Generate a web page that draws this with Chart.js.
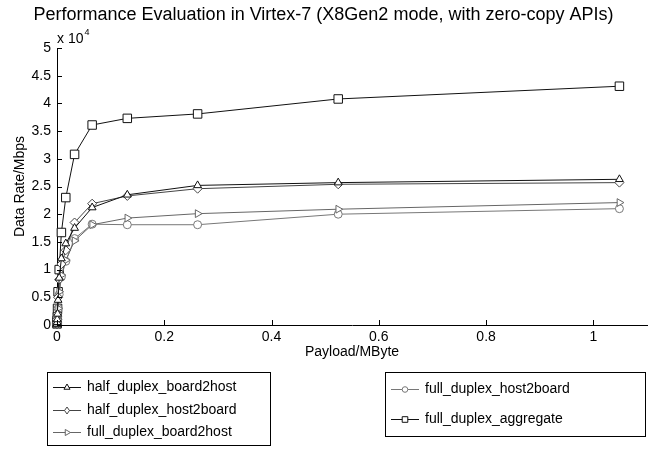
<!DOCTYPE html>
<html>
<head>
<meta charset="utf-8">
<script src="https://cdn.jsdelivr.net/npm/chart.js@4"></script>
<style>
  html, body { margin: 0; padding: 0; background: #fff; }
  canvas { display: block; }
</style>
</head>
<body>
<canvas id="perf-chart" width="663" height="450"></canvas>
<script>
// Payload sizes (MByte) and measured data rates (Mbps)
const payloadMB = [0.000064, 0.000128, 0.000256, 0.000512, 0.001024, 0.002048, 0.004096,
    0.008192, 0.016384, 0.032768, 0.065536, 0.131072, 0.262144, 0.524288, 1.048576];

const halfBoard2Host = [100, 200, 500, 1000, 2000, 4500, 8500, 12000, 14700, 17500, 21200, 23500, 25200, 25700, 26300];
const halfHost2Board = [100, 200, 500, 1000, 2000, 5000, 8200, 11000, 13500, 18500, 21900, 23300, 24600, 25400, 25700];
const fullBoard2Host = [100, 200, 400, 800, 1500, 3000, 6000, 9000, 11700, 15200, 18100, 19300, 20100, 20900, 22100];
const fullHost2Board = [100, 200, 400, 800, 1500, 3000, 5500, 8700, 11500, 15600, 18200, 18100, 18100, 20000, 21000];
const fullAggregate = [200, 400, 800, 1500, 3000, 6000, 10000, 16700, 23000, 30800, 36100, 37300, 38100, 40800, 43100];

const xTicks = [0, 0.2, 0.4, 0.6, 0.8, 1];
const yTickLabels = ['0', '0.5', '1', '1.5', '2', '2.5', '3', '3.5', '4', '4.5', '5'];

const FONT = '"Liberation Sans", Arial, sans-serif';

function series(label, values, color, marker, radius, rotation) {
    return {
        label: label,
        data: payloadMB.map((x, i) => ({ x: x, y: values[i] })),
        borderColor: color,
        borderWidth: 1,
        pointStyle: marker,
        pointRadius: radius,
        pointRotation: rotation || 0,
        pointBorderColor: color,
        pointBackgroundColor: '#fff',
        pointBorderWidth: 1,
        tension: 0,
        clip: false
    };
}

const datasets = [
    series('half_duplex_board2host', halfBoard2Host, '#111', 'triangle', 4.5),
    series('half_duplex_host2board', halfHost2Board, '#444', 'rectRot', 4.5),
    series('full_duplex_board2host', fullBoard2Host, '#666', 'triangle', 4.5, 90),
    series('full_duplex_host2board', fullHost2Board, '#777', 'circle', 4),
    series('full_duplex_aggregate', fullAggregate, '#111', 'rect', 6)
];

// legend layout: two boxed groups like the MATLAB figure
const legendGroups = [
    { items: [0, 1, 2], box: [47, 372, 223, 73], rows: [387, 410, 432] },
    { items: [3, 4], box: [385, 372, 260, 64], rows: [389, 419] }
];

function drawMarker(ctx, ds, x, y, r) {
    ctx.save();
    ctx.translate(x, y);
    ctx.rotate((ds.pointRotation || 0) * Math.PI / 180);
    ctx.beginPath();
    if (ds.pointStyle === 'triangle') {
        ctx.moveTo(0, -r);
        ctx.lineTo(r * 0.87, r * 0.5);
        ctx.lineTo(-r * 0.87, r * 0.5);
        ctx.closePath();
    } else if (ds.pointStyle === 'rectRot') {
        ctx.moveTo(0, -r); ctx.lineTo(r * 0.7, 0); ctx.lineTo(0, r); ctx.lineTo(-r * 0.7, 0);
        ctx.closePath();
    } else if (ds.pointStyle === 'circle') {
        ctx.arc(0, 0, r * 0.8, 0, Math.PI * 2);
    } else {
        ctx.rect(-r * 0.8, -r * 0.8, r * 1.6, r * 1.6);
    }
    ctx.fillStyle = '#fff';
    ctx.fill();
    ctx.strokeStyle = ds.borderColor;
    ctx.stroke();
    ctx.restore();
}

const matlabLook = {
    id: 'matlabLook',
    afterDraw(chart) {
        const { ctx, chartArea, scales } = chart;
        ctx.save();
        ctx.strokeStyle = '#000';
        ctx.lineWidth = 1;

        // inward tick marks
        scales.x.ticks.forEach(t => {
            const px = Math.round(scales.x.getPixelForValue(t.value)) + 0.5;
            ctx.beginPath();
            ctx.moveTo(px, chartArea.bottom);
            ctx.lineTo(px, chartArea.bottom - 5);
            ctx.stroke();
        });
        scales.y.ticks.forEach(t => {
            const py = Math.round(scales.y.getPixelForValue(t.value)) + 0.5;
            ctx.beginPath();
            ctx.moveTo(chartArea.left, py);
            ctx.lineTo(chartArea.left + 5, py);
            ctx.stroke();
        });

        // exponent label
        ctx.fillStyle = '#000';
        ctx.textAlign = 'left';
        ctx.textBaseline = 'alphabetic';
        ctx.font = '14px ' + FONT;
        ctx.fillText('x 10', chartArea.left, chartArea.top - 5);
        const w = ctx.measureText('x 10').width;
        ctx.font = '9px ' + FONT;
        ctx.fillText('4', chartArea.left + w + 1, chartArea.top - 13);

        // legend boxes
        ctx.font = '14px ' + FONT;
        ctx.textBaseline = 'middle';
        legendGroups.forEach(g => {
            const [bx, by, bw, bh] = g.box;
            ctx.strokeStyle = '#000';
            ctx.strokeRect(bx + 0.5, by + 0.5, bw, bh);
            g.items.forEach((idx, k) => {
                const ds = chart.data.datasets[idx];
                const y = g.rows[k] + 0.5;
                ctx.strokeStyle = ds.borderColor;
                ctx.beginPath();
                ctx.moveTo(bx + 6, y);
                ctx.lineTo(bx + 34, y);
                ctx.stroke();
                drawMarker(ctx, ds, bx + 20, y, 3.5);
                ctx.fillStyle = '#000';
                ctx.fillText(ds.label, bx + 40, y);
            });
        });
        ctx.restore();
    }
};

new Chart(document.getElementById('perf-chart'), {
    type: 'line',
    data: { datasets: datasets },
    options: {
        responsive: false,
        animation: false,
        layout: { padding: { left: 0, right: 16, top: 0, bottom: 80 } },
        plugins: {
            legend: { display: false },
            tooltip: { enabled: false },
            title: {
                display: true,
                text: 'Performance Evaluation in Virtex-7 (X8Gen2 mode, with zero-copy APIs)',
                color: '#000',
                font: { family: FONT, size: 18, weight: 'normal' },
                padding: { top: 3.8, bottom: 22.6 }
            }
        },
        scales: {
            x: {
                type: 'linear',
                min: 0,
                max: 1.1,
                afterFit: s => { s.height = 45; },
                afterBuildTicks: s => { s.ticks = xTicks.map(v => ({ value: v })); },
                ticks: {
                    color: '#000',
                    padding: 4,
                    maxRotation: 0,
                    font: { family: FONT, size: 14 },
                    callback: v => String(Math.round(v * 10) / 10)
                },
                grid: { display: false, drawTicks: false },
                border: { display: true, color: '#000', width: 1 },
                title: {
                    display: true,
                    text: 'Payload/MByte',
                    color: '#000',
                    font: { family: FONT, size: 14 },
                    padding: { top: 0, bottom: 9 }
                }
            },
            y: {
                min: 0,
                max: 50000,
                afterFit: s => { s.width = 57; },
                ticks: {
                    stepSize: 5000,
                    color: '#000',
                    padding: 6,
                    font: { family: FONT, size: 14 },
                    callback: (v, i) => yTickLabels[i]
                },
                grid: { display: false, drawTicks: false },
                border: { display: true, color: '#000', width: 1 },
                title: {
                    display: true,
                    text: 'Data Rate/Mbps',
                    color: '#000',
                    font: { family: FONT, size: 14 },
                    padding: { top: 12, bottom: 0 }
                }
            }
        }
    },
    plugins: [matlabLook]
});
</script>
</body>
</html>
